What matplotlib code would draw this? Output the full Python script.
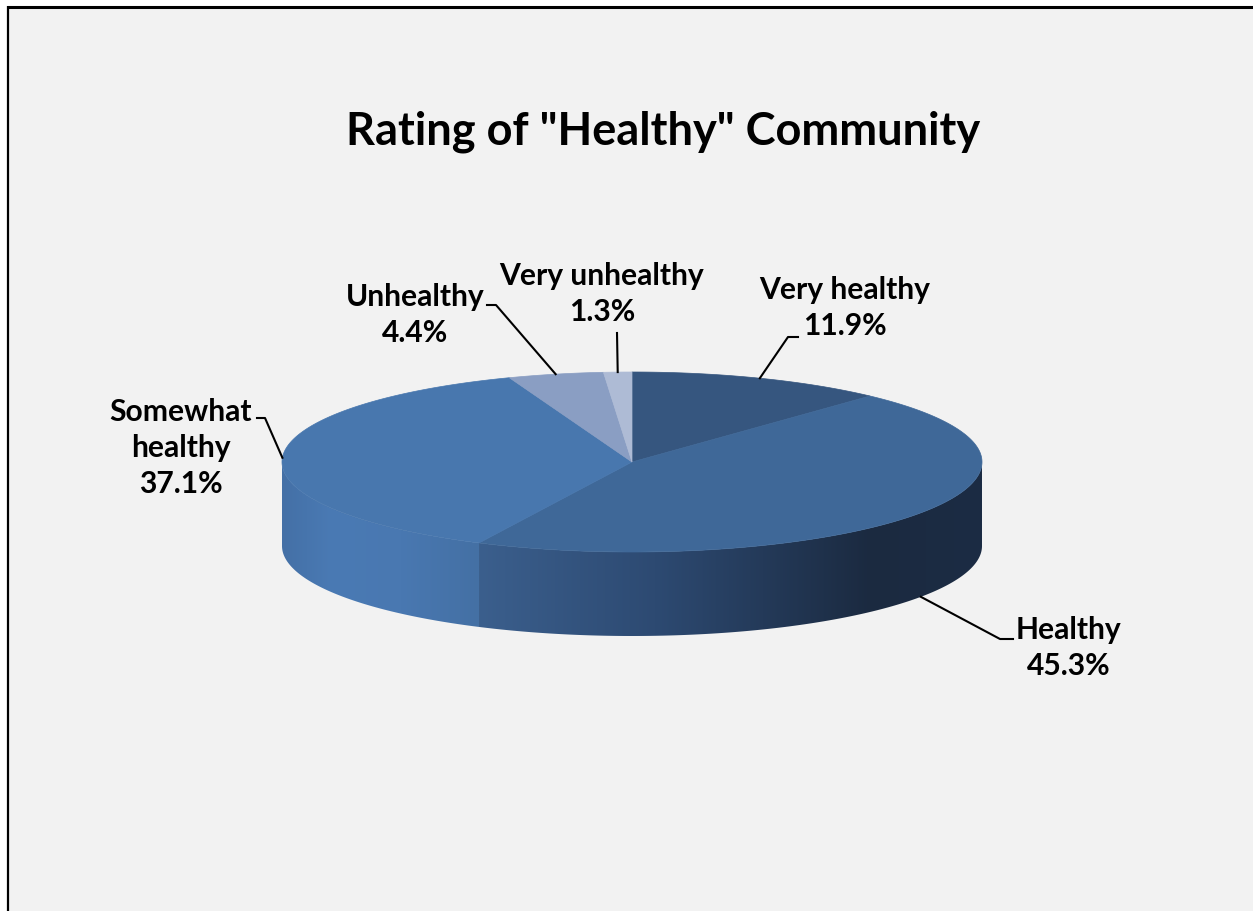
import numpy as np
import matplotlib
matplotlib.use("Agg")
import matplotlib.pyplot as plt
from matplotlib.patches import Polygon
from matplotlib.colors import to_rgb

# ratings, clockwise from 12 o'clock
categories = ["Very healthy", "Healthy", "Somewhat\nhealthy", "Unhealthy", "Very unhealthy"]
percentages = [11.9, 45.3, 37.1, 4.4, 1.3]
value_labels = ["11.9%", "45.3%", "37.1%", "4.4%", "1.3%"]

title = 'Rating of "Healthy" Community'

# colours of the pie tops and horizontal gradients of the visible walls
top_colors = ["#36567F", "#3F6898", "#4877AE", "#8A9EC3", "#AEBBD5"]
wall_stops = [
    None,
    [(0.0, "#3B5F8D"), (0.35, "#2D4A72"), (0.78, "#1B2A40"), (1.0, "#1C2C44")],
    [(0.0, "#4470A6"), (0.25, "#4A7AB4"), (0.6, "#4978B1"), (1.0, "#4470A4")],
    None,
    None,
]

# label centres and leader elbows (pixels)
label_pos = [(845, 308), (1069, 648), (181, 448), (415, 315), (602, 294)]
leader_pts = [
    [(788, 337), (798, 337)],
    [(1000, 639), (1013, 639)],
    [(265, 418), (257, 418)],
    [(496, 305), (487, 305)],
    [(617, 333)],
]

W, H = 1253, 911
CX, CY = 632, 462
RX, RY = 350, 90
DEPTH = 84
FONT = "Lato"


def rim(theta_deg, drop=0.0):
    t = np.radians(theta_deg)
    return CX + RX * np.sin(t), CY - RY * np.cos(t) + drop


def arc(a0, a1, drop=0.0):
    n = max(int(abs(a1 - a0)) * 2, 4)
    th = np.linspace(a0, a1, n)
    xs, ys = rim(th, drop)
    return np.column_stack([xs, ys])


def gradient_row(stops, n=400):
    pos = [s[0] for s in stops]
    cols = np.array([to_rgb(s[1]) for s in stops])
    t = np.linspace(0, 1, n)
    row = np.stack([np.interp(t, pos, cols[:, k]) for k in range(3)], axis=1)
    return row[np.newaxis, :, :]


fig = plt.figure(figsize=(W / 100, H / 100), dpi=100, facecolor="white")
ax = fig.add_axes([0, 0, 1, 1])
ax.set_xlim(0, W)
ax.set_ylim(H, 0)
ax.axis("off")

# chart area with its frame on top and left
ax.add_patch(plt.Rectangle((8, 7), W - 8, H - 7, facecolor="#F2F2F2", edgecolor="none", zorder=0))
ax.plot([7, W], [7, 7], color="black", lw=2.2, solid_capstyle="butt", zorder=1)
ax.plot([8, 8], [6, H], color="black", lw=1.6, solid_capstyle="butt", zorder=1)

total = sum(percentages)
edges = np.concatenate([[0], np.cumsum(percentages) / total * 360])

# walls of the front half (90..270 deg)
for i in range(len(percentages)):
    a0, a1 = max(edges[i], 90), min(edges[i + 1], 270)
    if a1 <= a0:
        continue
    top = arc(a0, a1)
    bottom = arc(a1, a0, DEPTH)
    poly = Polygon(np.vstack([top, bottom]), closed=True, facecolor="none", edgecolor="none")
    ax.add_patch(poly)
    stops = wall_stops[i] or [(0, top_colors[i]), (1, top_colors[i])]
    xs = np.vstack([top, bottom])[:, 0]
    img = ax.imshow(gradient_row(stops), extent=(xs.min(), xs.max(), CY + RY + DEPTH + 2, CY - 2),
                    aspect="auto", interpolation="bilinear", zorder=2)
    img.set_clip_path(poly)

# top faces
for i in range(len(percentages)):
    pts = np.vstack([[CX, CY], arc(edges[i], edges[i + 1])])
    ax.add_patch(Polygon(pts, closed=True, facecolor=top_colors[i], edgecolor=top_colors[i],
                         lw=0.5, zorder=3))

# labels with leader lines
for i, cat in enumerate(categories):
    mid = (edges[i] + edges[i + 1]) / 2
    drop = DEPTH if np.cos(np.radians(mid)) < 0 else 0
    ax_, ay_ = rim(mid, drop)
    path = [(ax_, ay_)] + leader_pts[i]
    ax.plot([p[0] for p in path], [p[1] for p in path], color="black", lw=1.5, zorder=4)
    ax.text(label_pos[i][0], label_pos[i][1], cat + "\n" + value_labels[i], ha="center", va="center",
            multialignment="center", fontsize=21.6, fontweight="bold", family=FONT,
            linespacing=1.35, color="black", zorder=5)

ax.text(663, 132, title, ha="center", va="center", fontsize=32.5, fontweight="bold",
        family=FONT, color="black", zorder=5)

ax.set_xlim(0, W)
ax.set_ylim(H, 0)
fig.savefig("out.png", dpi=100, facecolor=fig.get_facecolor())
